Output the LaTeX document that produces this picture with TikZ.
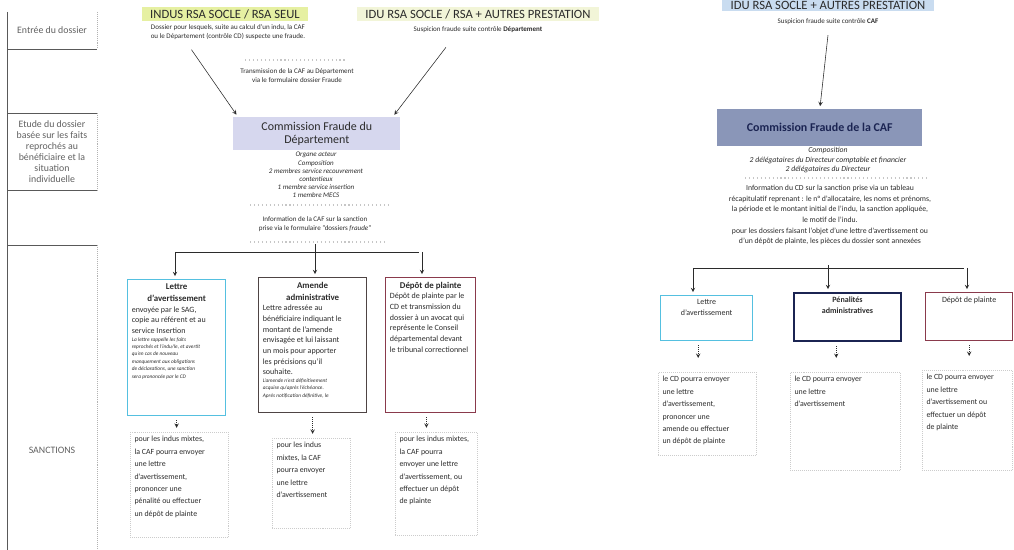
\documentclass[tikz,border=0pt]{standalone}
\usepackage{fontspec}
\setmainfont{Carlito}
\definecolor{inkA}{HTML}{2B2B2B}
\definecolor{limeA}{HTML}{E6F0A2}
\definecolor{limeB}{HTML}{F2F5D8}
\definecolor{skyA}{HTML}{C9DCF0}
\definecolor{lavA}{HTML}{D6D7EE}
\definecolor{slateA}{HTML}{8A96B8}
\definecolor{navyA}{HTML}{1B2452}
\definecolor{cyanA}{HTML}{55C0E0}
\definecolor{brownA}{HTML}{4E4444}
\definecolor{maroonA}{HTML}{8A3A4C}
\newcommand{\topfill}[3]{\parbox[c][#1][t]{#2}{\raggedright #3}}
\begin{document}
\begin{tikzpicture}[x=0.025cm, y=-0.025cm, >=stealth,
    rowlabel/.style={font=\fontsize{7}{7.8}\selectfont, text=gray!75!black, align=center, inner sep=1pt},
    hdr/.style={font=\fontsize{9}{10}\selectfont, text=inkA, inner xsep=6pt, inner ysep=1.5pt},
    small/.style={font=\fontsize{5}{6.4}\selectfont, text=inkA, align=center, inner sep=1pt},
    comp/.style={font=\itshape\fontsize{5}{5.8}\selectfont, text=inkA, align=center, inner sep=1pt},
    sanction/.style={draw, line width=0.9pt, inner sep=3pt, anchor=north west, text=inkA,
      font=\fontsize{5.7}{7.6}\selectfont},
    result/.style={draw=gray!40, densely dotted, inner sep=3pt, anchor=north west, text=inkA,
      font=\fontsize{5.6}{8.8}\selectfont},
    dotrule/.style={gray!45, dotted, line width=0.8pt},
    link/.style={->, draw=inkA, thin, shorten >=2pt},
    hint/.style={->, draw=inkA, densely dotted, shorten <=3pt, shorten >=3pt}]
  \useasboundingbox (0,0) rectangle (1014,550);

  \draw[gray!70!black] (7,12) -- (7,550);
  \draw[gray!70!black] (7,49) -- (97,49);
  \draw[gray!70!black] (7,113) -- (97,113);
  \draw[gray!70!black] (7,190) -- (97,190);
  \draw[gray!70!black] (7,245) -- (97,245);
  \draw[gray!60, densely dotted] (97,12) -- (97,49);
  \draw[gray!60, densely dotted] (97,113) -- (97,190);
  \draw[gray!60, densely dotted] (97,245) -- (97,550);
  \node[rowlabel] (rowEntree) at (52,30) {Entrée du dossier};
  \node[rowlabel] (rowEtude) at (52,152) {Etude du dossier\\basée sur les faits\\reprochés au\\bénéficiaire et la\\situation\\individuelle};
  \node[rowlabel] (rowSanctions) at (52,450) {SANCTIONS};

  \node[hdr, fill=limeA] (hdrSeul) at (225,14) {INDUS RSA SOCLE / RSA SEUL};
  \node[small] (subSeul) at (228,32) {Dossier pour lesquels, suite au calcul d'un indu, la CAF\\ou le Département (contrôle CD) suspecte une fraude.};
  \node[hdr, fill=limeB] (hdrAutres) at (478,14) {IDU RSA SOCLE / RSA + AUTRES PRESTATION};
  \node[small] (subAutres) at (478,30) {Suspicion fraude suite contrôle \textbf{Département}};
  \draw[dotrule] (245,60) -- (345,60);
  \node[small] (transDep) at (297,76) {Transmission de la CAF au Département\\via le formulaire dossier Fraude};

  \node[fill=lavA, anchor=north west, minimum width=118.8pt, minimum height=23.5pt, inner sep=1pt,
    align=center, text=inkA, font=\fontsize{8.5}{9.5}\selectfont] (commDep) at (233,117)
    {Commission Fraude du\\Département};
  \node[comp] (compDep) at (316,175) {Organe acteur\\Composition\\2 membres service recouvrement\\contentieux\\1 membre service insertion\\1 membre MECS};
  \draw[dotrule] (250,205) -- (390,205);
  \node[small] (infoDep) at (315,224) {Information de la CAF sur la sanction\\prise via le formulaire "dossiers \textit{fraude}"};
  \draw[dotrule] (250,242) -- (385,242);

  \node[sanction, draw=cyanA] (lettreDep) at (127,279) {\topfill{90.7pt}{63.7pt}{%
    {\centering\bfseries\fontsize{6.3}{8.5}\selectfont Lettre\\d'avertissement\par}
    envoyée par le SAG,\\copie au référent et au\\service Insertion\par
    {\itshape\fontsize{3.8}{5.3}\selectfont La lettre rappelle les faits\\reprochés et l'indu/le, et avertit\\qu'en cas de nouveau\\manquement aux obligations\\de déclarations, une sanction\\sera prononcée par le CD\par}}};
  \node[sanction, draw=brownA] (amendeDep) at (258,277) {\topfill{90pt}{70.8pt}{%
    {\centering\bfseries\fontsize{6.3}{8.5}\selectfont Amende\\administrative\par}
    Lettre adressée au\\bénéficiaire indiquant le\\montant de l'amende\\envisagée et lui laissant\\un mois pour apporter\\les précisions qu'il\\souhaite.\par
    {\itshape\fontsize{3.8}{5.3}\selectfont L'amende n'est définitivement\\acquise qu'après l'échéance.\\Après notification définitive, le\par}}};
  \node[sanction, draw=maroonA] (plainteDep) at (385,277) {\topfill{90pt}{58pt}{%
    {\centering\bfseries\fontsize{6.3}{8.5}\selectfont Dépôt de plainte\par}
    Dépôt de plainte par le\\CD et transmission du\\dossier à un avocat qui\\représente le Conseil\\départemental devant\\le tribunal correctionnel}};

  \node[result] (mixteLettre) at (130,432) {\topfill{68.7pt}{63.7pt}{pour les indus mixtes,\\la CAF pourra envoyer\\une lettre\\d'avertissement,\\prononcer une\\pénalité ou effectuer\\un dépôt de plainte}};
  \node[result] (mixteAmende) at (272,438) {\topfill{58pt}{49.5pt}{pour les indus\\mixtes, la CAF\\pourra envoyer\\une lettre\\d'avertissement}};
  \node[result] (mixtePlainte) at (395,432) {\topfill{67.3pt}{52pt}{pour les indus mixtes,\\la CAF pourra\\envoyer une lettre\\d'avertissement, ou\\effectuer un dépôt\\de plainte}};

  \node[hdr, fill=skyA] (hdrCaf) at (828,5) {IDU RSA SOCLE + AUTRES PRESTATION};
  \node[small] (subCaf) at (828,22) {Suspicion fraude suite contrôle \textbf{CAF}};
  \node[fill=slateA, anchor=north west, minimum width=145.8pt, minimum height=26.3pt, inner sep=1pt,
    text=navyA, font=\bfseries\fontsize{8.5}{9.5}\selectfont] (commCaf) at (717,109)
    {Commission Fraude de la CAF};
  \node[comp, font=\itshape\fontsize{5.5}{7}\selectfont] (compCaf) at (828,160) {Composition\\2 délégataires du Directeur comptable et financier\\2 délégataires du Directeur};
  \draw[dotrule] (745,178) -- (930,178);
  \node[small, font=\fontsize{5.5}{7.6}\selectfont] (infoCaf) at (830,215) {Information du CD sur la sanction prise via un tableau\\récapitulatif reprenant : le n° d'allocataire, les noms et prénoms,\\la période et le montant initial de l'indu, la sanction appliquée,\\le motif de l'indu.\\pour les dossiers faisant l'objet d'une lettre d'avertissement ou\\d'un dépôt de plainte, les pièces du dossier sont annexées};

  \node[sanction, draw=cyanA] (lettreCaf) at (660,295) {\topfill{26pt}{59.4pt}{%
    {\centering Lettre\\d'avertissement\par}}};
  \node[sanction, draw=navyA, line width=1.4pt] (penaliteCaf) at (793,292) {\topfill{28.1pt}{70.1pt}{%
    {\centering\bfseries Pénalités\\administratives\par}}};
  \node[sanction, draw=maroonA] (plainteCaf) at (925,292) {\topfill{28.1pt}{55.9pt}{%
    {\centering Dépôt de plainte\par}}};

  \node[result] (cdLettre) at (658,372) {\topfill{53pt}{63.7pt}{le CD pourra envoyer\\une lettre\\d'avertissement,\\prononcer une\\amende ou effectuer\\un dépôt de plainte}};
  \node[result] (cdPenalite) at (790,372) {\topfill{63.7pt}{72.2pt}{le CD pourra envoyer\\une lettre\\d'avertissement}};
  \node[result] (cdPlainte) at (922,370) {\topfill{65.1pt}{58pt}{le CD pourra envoyer\\une lettre\\d'avertissement ou\\effectuer un dépôt\\de plainte}};

  \coordinate (teeDep) at (315,252);
  \coordinate (barDepL) at (175,252);
  \coordinate (barDepR) at (422,252);
  \coordinate (teeCaf) at (828,268);
  \coordinate (barCafL) at (693,268);
  \coordinate (barCafR) at (967,268);

  \begin{scope}[link]
    \draw ([xshift=-26pt,yshift=-6pt]subSeul.south) -- ([xshift=3.6pt]commDep.north west);
    \draw ([xshift=-22.8pt,yshift=-9pt]subAutres.south) -- ([xshift=-5.7pt]commDep.north east);
    \draw[-] (barDepL) -- (barDepR);
    \draw (teeDep) ++(0,-8) -- (teeDep |- amendeDep.north);
    \draw (barDepL) -- (barDepL |- lettreDep.north);
    \draw (barDepR) -- (barDepR |- plainteDep.north);
    \draw ([yshift=-6pt]subCaf.south) -- (commCaf.north);
    \draw[-] (barCafL) -- (barCafR);
    \draw[-] (teeCaf) -- ++(0,-6);
    \draw (barCafL) -- (barCafL |- lettreCaf.north);
    \draw (teeCaf) -- (teeCaf |- penaliteCaf.north);
    \draw (barCafR) -- (barCafR |- plainteCaf.north);
  \end{scope}

  \begin{scope}[hint]
    \draw (lettreDep.south) -- (lettreDep.south |- mixteLettre.north);
    \draw (amendeDep.south) -- (amendeDep.south |- mixteAmende.north);
    \draw ([xshift=-3pt]plainteDep.south) -- ([xshift=-3pt]plainteDep.south |- mixtePlainte.north);
    \draw ([xshift=-6pt]lettreCaf.south) -- ([xshift=-6pt,yshift=7pt]lettreCaf.south |- cdLettre.north);
    \draw ([xshift=-8pt]penaliteCaf.south) -- ([xshift=-8pt,yshift=7pt]penaliteCaf.south |- cdPenalite.north);
    \draw (plainteCaf.south) -- ([yshift=7pt]plainteCaf.south |- cdPlainte.north);
  \end{scope}
\end{tikzpicture}
\end{document}
